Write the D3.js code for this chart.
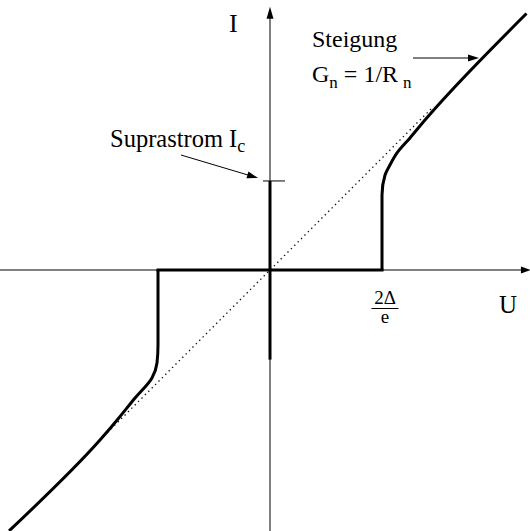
<!DOCTYPE html>
<html>
<head>
<meta charset="utf-8">
<script src="https://cdn.jsdelivr.net/npm/d3@7/dist/d3.min.js"></script>
<style>
  html, body { margin: 0; padding: 0; background: #fff; }
  svg { display: block; }
</style>
</head>
<body>
<svg id="chart" width="530" height="531"></svg>
<script>
// Tunnel characteristic I(U); U in units of 2Δ/e, I in units of (2Δ/e)·G_n
const posU = [1.0, 1.0, 1.027, 1.071, 1.134, 1.25, 1.384, 1.518, 2.29];
const posI = [0.0, 0.67, 0.848, 0.937, 1.045, 1.179, 1.339, 1.491, 2.29];
const negU = [-1.0, -1.0, -1.009, -1.054, -1.205, -1.357, -1.518, -2.33];
const negI = [0.0, -0.67, -0.83, -0.964, -1.143, -1.33, -1.518, -2.33];
// Subgap branch (I = 0 between the gap voltages)
const gapU = [-1.0, 1.0];
// Supercurrent on the I axis
const supraI = [-0.80, 0.795];
// Ohmic reference line I = U
const ohmU = [-1.45, 1.46];
// Axis extents
const axisU = [-2.42, 2.33];
const axisI = [-2.35, 2.35];
const tickU = [{ value: 1.0, num: "2Δ", den: "e" }];

const FONT = '"Liberation Serif", "Times New Roman", Times, "Nimbus Roman", "DejaVu Serif", serif';

const svg = d3.select("#chart")
  .attr("font-family", FONT)
  .style("font-family", FONT);
const x = d3.scaleLinear().domain([-1, 1]).range([158, 382]);
const y = d3.scaleLinear().domain([-1, 1]).range([382, 158]);

// Axes
svg.append("line")
  .attr("x1", x(axisU[0])).attr("x2", x(axisU[1]) - 6)
  .attr("y1", y(0)).attr("y2", y(0))
  .attr("stroke", "#000").attr("stroke-width", 1);
svg.append("line")
  .attr("x1", x(0)).attr("x2", x(0))
  .attr("y1", y(axisI[0])).attr("y2", y(axisI[1]) + 6)
  .attr("stroke", "#000").attr("stroke-width", 1);

// Arrowheads on the axes
const tipX = [x(axisU[1]), y(0)];
svg.append("path")
  .attr("d", `M${tipX[0]},${tipX[1]} L${tipX[0] - 10},${tipX[1] - 3.5} L${tipX[0] - 10},${tipX[1] + 3.5} Z`)
  .attr("fill", "#000");
const tipY = [x(0), y(axisI[1])];
svg.append("path")
  .attr("d", `M${tipY[0]},${tipY[1]} L${tipY[0] - 3.5},${tipY[1] + 12} L${tipY[0] + 3.5},${tipY[1] + 12} Z`)
  .attr("fill", "#000");

// Ohmic line
svg.append("line")
  .attr("x1", x(ohmU[0])).attr("y1", y(ohmU[0]))
  .attr("x2", x(ohmU[1])).attr("y2", y(ohmU[1]))
  .attr("stroke", "#111").attr("stroke-width", 1.3)
  .attr("stroke-dasharray", "1.4,3.4");

// Quasiparticle branches
const branch = d3.line().x(d => x(d[0])).y(d => y(d[1])).curve(d3.curveMonotoneY);
svg.append("path")
  .attr("d", branch(d3.zip(posU, posI)))
  .attr("fill", "none").attr("stroke", "#000").attr("stroke-width", 3);
svg.append("path")
  .attr("d", branch(d3.zip(negU, negI).reverse()))
  .attr("fill", "none").attr("stroke", "#000").attr("stroke-width", 3);

// Subgap segment
svg.append("line")
  .attr("x1", x(gapU[0]) - 1.5).attr("x2", x(gapU[1]) + 1.5)
  .attr("y1", y(0)).attr("y2", y(0))
  .attr("stroke", "#000").attr("stroke-width", 3);

// Supercurrent
svg.append("line")
  .attr("x1", x(0)).attr("x2", x(0))
  .attr("y1", y(supraI[0])).attr("y2", y(supraI[1]))
  .attr("stroke", "#000").attr("stroke-width", 3);
// Critical current tick
svg.append("line")
  .attr("x1", x(0) - 7).attr("x2", x(0) + 15)
  .attr("y1", y(supraI[1])).attr("y2", y(supraI[1]))
  .attr("stroke", "#000").attr("stroke-width", 1);

// Tick label 2Δ/e
tickU.forEach(t => {
  const cx = x(t.value) + 3;
  svg.append("text").attr("x", cx).attr("y", 304)
    .attr("text-anchor", "middle").attr("font-size", 19).text(t.num);
  svg.append("line").attr("x1", cx - 13.5).attr("x2", cx + 13.5)
    .attr("y1", 308.5).attr("y2", 308.5)
    .attr("stroke", "#000").attr("stroke-width", 1);
  svg.append("text").attr("x", cx).attr("y", 323)
    .attr("text-anchor", "middle").attr("font-size", 19).text(t.den);
});

// Axis titles
svg.append("text").attr("x", 229).attr("y", 32).attr("font-size", 26).text("I");
svg.append("text").attr("x", 499).attr("y", 313).attr("font-size", 25).text("U");

// Annotations
function arrow(x1, y1, x2, y2) {
  const a = Math.atan2(y2 - y1, x2 - x1), L = 11, W = 3.5;
  svg.append("line").attr("x1", x1).attr("y1", y1)
    .attr("x2", x2 - (L - 2) * Math.cos(a)).attr("y2", y2 - (L - 2) * Math.sin(a))
    .attr("stroke", "#000").attr("stroke-width", 1);
  const bx = x2 - L * Math.cos(a), by = y2 - L * Math.sin(a);
  svg.append("path")
    .attr("d", `M${x2},${y2} L${bx - W * Math.sin(a)},${by + W * Math.cos(a)} L${bx + W * Math.sin(a)},${by - W * Math.cos(a)} Z`)
    .attr("fill", "#000");
}

const t1 = svg.append("text").attr("x", 110).attr("y", 147).attr("font-size", 24.5);
t1.append("tspan").text("Suprastrom I");
t1.append("tspan").attr("font-size", 18).attr("dy", 5).text("c");
arrow(181, 155, 258, 178);

svg.append("text").attr("x", 312).attr("y", 47).attr("font-size", 24).text("Steigung");
const t2 = svg.append("text").attr("x", 312).attr("y", 82).attr("font-size", 24);
t2.append("tspan").text("G");
t2.append("tspan").attr("font-size", 17).attr("dy", 6).text("n");
t2.append("tspan").attr("dy", -6).text(" = 1/R");
t2.append("tspan").attr("font-size", 17).attr("dy", 6).attr("dx", 5).text("n");
arrow(413, 58, 479, 58);
</script>
</body>
</html>
